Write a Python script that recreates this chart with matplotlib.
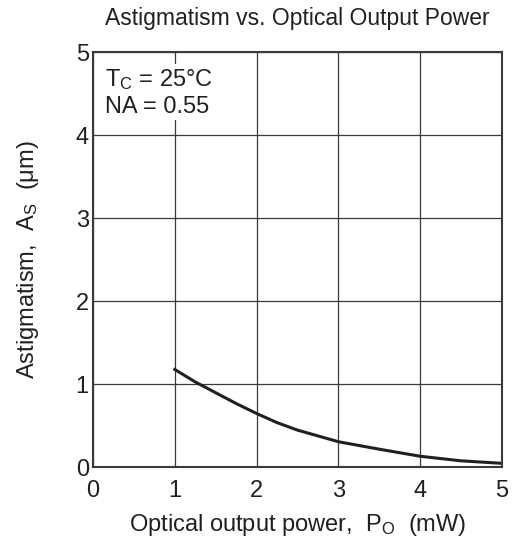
import matplotlib.pyplot as plt
import numpy as np

plt.rcParams['font.family'] = ['Liberation Sans', 'DejaVu Sans']
plt.rcParams['mathtext.fontset'] = 'custom'
plt.rcParams['mathtext.rm'] = 'Liberation Sans'
plt.rcParams['mathtext.it'] = 'Liberation Sans'

# Data
power = [1.0, 1.25, 1.5, 1.75, 2.0, 2.25, 2.5, 3.0, 3.5, 4.0, 4.5, 5.0]
astig = [1.18, 1.03, 0.90, 0.77, 0.65, 0.54, 0.45, 0.31, 0.22, 0.135, 0.08, 0.05]

xticks = [0, 1, 2, 3, 4, 5]
yticks = [0, 1, 2, 3, 4, 5]

fig = plt.figure(figsize=(5.15, 5.41), dpi=100)
ax = fig.add_axes([0.1806, 0.1359, 0.7942, 0.7674])

ax.plot(power, astig, color='#231f20', linewidth=2.2)

ax.set_xlim(0, 5)
ax.set_ylim(0, 5)
ax.set_xticks(xticks)
ax.set_yticks(yticks)
ax.tick_params(length=0, labelsize=17, colors='#231f20')
ax.tick_params(axis='x', pad=9)
ax.tick_params(axis='y', pad=3)
ax.grid(True, color='#3a3a3a', linewidth=0.9)
for s in ax.spines.values():
    s.set_linewidth(1.5)
    s.set_color('#3a3a3a')

ax.set_xlabel(r'Optical output power,  P$_{\mathrm{O}}$  (mW)', fontsize=17, color='#231f20', labelpad=7)
ax.set_ylabel(r'Astigmatism,  A$_{\mathrm{S}}$  ($\mathrm{\mu}$m)', fontsize=17, color='#231f20', labelpad=25)
ax.set_title('Astigmatism vs. Optical Output Power', fontsize=16.5, color='#231f20', pad=20)

ax.text(0.15, 4.82, 'T$_{\\mathrm{C}}$ = 25°C\nNA = 0.55', fontsize=17, color='#231f20',
        va='top', ha='left', linespacing=1.2,
        bbox=dict(facecolor='white', edgecolor='none', pad=2))

plt.savefig('out.png', dpi=100)
